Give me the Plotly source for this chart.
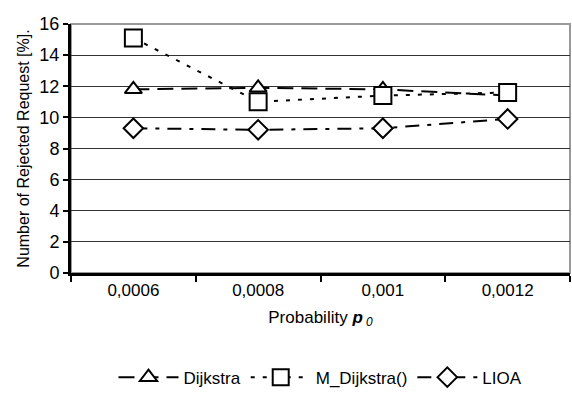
import plotly.graph_objects as go

categories = ["0,0006", "0,0008", "0,001", "0,0012"]
dijkstra = [11.8, 11.9, 11.8, 11.4]
m_dijkstra = [15.1, 11.0, 11.4, 11.6]
lioa = [9.3, 9.2, 9.3, 9.9]
y_ticks = [0, 2, 4, 6, 8, 10, 12, 14, 16]

fig = go.Figure()
fig.add_trace(go.Scatter(
    x=categories, y=dijkstra, name="Dijkstra", mode="lines+markers",
    line=dict(color="black", width=2, dash="16px,8px"),
    marker=dict(symbol="triangle-up", size=15, color="white", line=dict(color="black", width=2)),
))
fig.add_trace(go.Scatter(
    x=categories, y=m_dijkstra, name="M_Dijkstra()", mode="lines+markers",
    line=dict(color="black", width=2, dash="4px,8px"),
    marker=dict(symbol="square", size=17, color="white", line=dict(color="black", width=2)),
))
fig.add_trace(go.Scatter(
    x=categories, y=lioa, name="LIOA", mode="lines+markers",
    line=dict(color="black", width=2, dash="14px,8px,4px,8px"),
    marker=dict(symbol="diamond", size=15, color="white", line=dict(color="black", width=2)),
))

fig.update_layout(
    width=572, height=399,
    margin=dict(l=71, r=2, t=24, b=126),
    paper_bgcolor="white", plot_bgcolor="white",
    font=dict(family="Liberation Sans, Arial, sans-serif", size=17, color="black"),
    showlegend=True,
    legend=dict(orientation="h", x=0.5, xanchor="center", y=-0.42, yanchor="middle",
                font=dict(size=17), itemwidth=60, tracegroupgap=0),
    shapes=[dict(type="rect", xref="paper", yref="paper", x0=0, x1=1, y0=0, y1=1,
                 line=dict(color="#999999", width=2), layer="below")],
)
fig.update_xaxes(
    type="category", tickson="boundaries", ticks="outside", ticklen=6, tickwidth=2, tickcolor="black",
    showline=True, linecolor="black", linewidth=3, showgrid=False,
    title=dict(text="Probability <b><i>p</i></b><i><sub> 0</sub></i>", font=dict(size=17), standoff=12),
    tickfont=dict(size=17),
    range=[-0.5, 3.5],
)
fig.update_yaxes(
    range=[0, 16], tickvals=y_ticks, ticks="outside", ticklen=5, tickwidth=2, tickcolor="black",
    showline=True, linecolor="black", linewidth=3, showgrid=True, gridcolor="#333333", gridwidth=1,
    zeroline=False,
    title=dict(text="Number of Rejected Request [%].", font=dict(size=16), standoff=6),
    tickfont=dict(size=18),
)

fig.write_html("out.html")
